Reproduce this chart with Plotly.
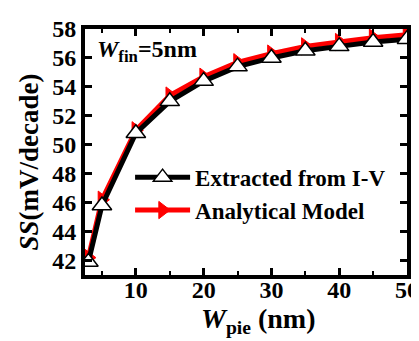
import plotly.graph_objects as go

w_pie = [3, 5, 10, 15, 20, 25, 30, 35, 40, 45, 50]
ss_extracted = [41.9, 45.8, 50.8, 53.0, 54.4, 55.4, 56.0, 56.5, 56.8, 57.1, 57.3]
ss_model = [42.2, 46.2, 51.0, 53.4, 54.7, 55.7, 56.3, 56.8, 57.1, 57.4, 57.6]
x_ticks = [10, 20, 30, 40, 50]
y_ticks = [42, 44, 46, 48, 50, 52, 54, 56, 58]

FONT = "Times New Roman, Liberation Serif, serif"

fig = go.Figure()
fig.add_trace(go.Scatter(
    x=w_pie, y=ss_model, mode="lines+markers", name="<b>Analytical Model</b>",
    line=dict(color="#ff0000", width=5),
    marker=dict(symbol="triangle-right", size=15, color="#ff0000",
                line=dict(color="#ff0000", width=1)),
))
fig.add_trace(go.Scatter(
    x=w_pie, y=ss_extracted, mode="lines+markers", name="<b>Extracted from I-V</b>",
    line=dict(color="#000000", width=5),
    marker=dict(symbol="triangle-up", size=17, color="#ffffff",
                line=dict(color="#000000", width=1.5)),
))

axis_common = dict(
    showline=True, linewidth=4, linecolor="black", mirror="allticks",
    ticks="inside", tickwidth=3, ticklen=7, tickcolor="black",
    showgrid=False, zeroline=False,
    tickfont=dict(family=FONT, size=24, color="black", weight="bold"),
)
fig.update_xaxes(range=[2.5, 50], tickvals=x_ticks, ticktext=[str(v) for v in x_ticks],
                 ticklabelstandoff=-10,
                 minor=dict(dtick=5, tick0=0, ticks="inside", ticklen=4, tickwidth=2, tickcolor="black"),
                 **axis_common)
fig.update_yaxes(range=[41, 58], tickvals=y_ticks, ticktext=[str(v) for v in y_ticks],
                 **axis_common)

fig.add_annotation(xref="paper", yref="paper", x=0.03, y=0.91, xanchor="left", yanchor="middle",
                   text="<b><i>W</i><sub>fin</sub>=5nm</b>", showarrow=False,
                   font=dict(family=FONT, size=24, color="black"))
fig.add_annotation(xref="paper", yref="paper", x=0.54, y=-0.105, xanchor="center", yanchor="top",
                   text="<b><i>W</i><sub>pie</sub> (nm)</b>", showarrow=False,
                   font=dict(family=FONT, size=28, color="black"))
fig.add_annotation(xref="paper", yref="paper", x=-0.175, y=0.46, xanchor="center", yanchor="middle",
                   text="<b><i>SS</i>(mV/decade)</b>", textangle=-90, showarrow=False,
                   font=dict(family=FONT, size=27, color="black"))

fig.update_layout(
    width=419, height=341,
    margin=dict(l=77, r=8, t=15, b=74),
    font=dict(family=FONT, color="black"),
    plot_bgcolor="white", paper_bgcolor="white",
    legend=dict(x=0.14, y=0.485, xanchor="left", yanchor="top", bgcolor="rgba(0,0,0,0)",
                traceorder="reversed", itemwidth=55, tracegroupgap=0,
                font=dict(family=FONT, size=23, color="black")),
)
fig.write_html("out.html")
